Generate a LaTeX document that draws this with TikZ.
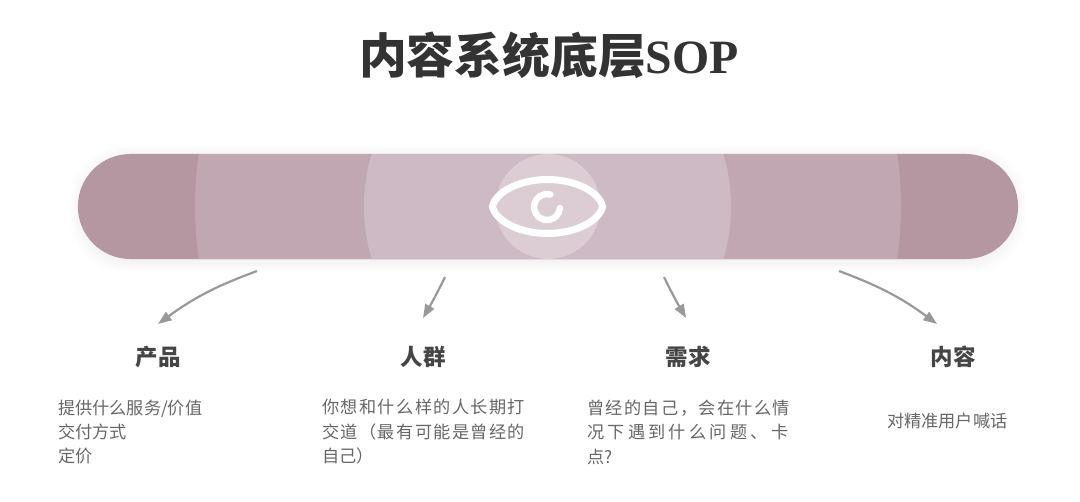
\documentclass[tikz,border=0pt]{standalone}
\usepackage{fontspec}
\usepackage{xcolor}
\usetikzlibrary{arrows.meta,positioning,calc}
\setmainfont{Noto Sans CJK SC}
\newfontfamily\cjkbody{Noto Sans CJK SC}
\newfontfamily\cjktrack[LetterSpace=8.2]{Noto Sans CJK SC}
\newfontfamily\cjkspread[LetterSpace=19]{Noto Sans CJK SC}
\newfontfamily\latintitle{Liberation Serif}
\definecolor{barouter}{HTML}{B597A2}
\definecolor{barmid}{HTML}{C0A7B2}
\definecolor{barinner}{HTML}{CDBAC4}
\definecolor{barcore}{HTML}{DCCDD5}
\definecolor{ink}{HTML}{333333}
\definecolor{headink}{HTML}{454545}
\definecolor{bodyink}{HTML}{666666}
\definecolor{arrowgray}{HTML}{999999}
\tikzset{
  titletext/.style={text=ink,inner sep=0pt,font=\fontsize{34pt}{40pt}\selectfont\bfseries},
  headtext/.style={text=headink,inner sep=0pt,font=\fontsize{16pt}{18pt}\selectfont\bfseries},
  bodytext/.style={text=bodyink,inner sep=0pt,align=left,anchor=west,
                   font=\fontsize{12.2pt}{17.4pt}\selectfont},
  softarr/.style={-{Triangle[length=3.4mm,width=2.5mm]},line width=0.55mm,color=arrowgray},
  eyeline/.style={draw=white,line width=1.75mm,line cap=round}
}

\begin{document}
\begin{tikzpicture}[x=0.025cm,y=-0.025cm]
  \useasboundingbox (0,0) rectangle (1080,501);

  % Title
  \node[titletext] (title) at (549,55) {内容系统底层{\latintitle\fontsize{34pt}{40pt}\selectfont SOP}};

  % Soft shadow under the bar
  \foreach \s in {2,4,...,14}{
    \fill[black,opacity=0.006,rounded corners=1.35cm]
      (84-\s,160-\s) rectangle (1012+\s,258+\s);
  }

  % Bar with its rings
  \node[fill=barouter,rounded corners=1.3125cm,minimum width=23.5cm,minimum height=2.625cm,
        inner sep=0pt] (bar) at (548,206.5) {};
  \begin{scope}
    \clip[rounded corners=1.3125cm] (78,154) rectangle (1018,259);
    \fill[barmid] (548,206.5) circle[radius=353];
    \fill[barinner] (547.5,206.5) circle[radius=183.5];
    \fill[barcore] (548,206.5) circle[radius=52.5];
  \end{scope}

  % Eye
  \draw[eyeline] (492.5,206.5) .. controls (495,193) and (518,179.5) .. (547.5,179.5)
    .. controls (577,179.5) and (600,193) .. (602.5,206.5)
    .. controls (600,220) and (577,233.5) .. (547.5,233.5)
    .. controls (518,233.5) and (495,220) .. cycle;
  \draw[eyeline,line width=1.6mm] ($(547,207)+(-75:13)$) arc[start angle=-75,end angle=-355,radius=13];

  % Arrow ends
  \coordinate (p1a) at (257,271);
  \coordinate (p1b) at (158,324);
  \coordinate (p2a) at (445,277);
  \coordinate (p2b) at (423,318);
  \coordinate (p3a) at (664,277);
  \coordinate (p3b) at (686,318);
  \coordinate (p4a) at (839,271);
  \coordinate (p4b) at (937,324);

  \draw[softarr] (p1a) to[bend right=8] (p1b);
  \draw[softarr] (p2a) to[bend left=2] (p2b);
  \draw[softarr] (p3a) to[bend right=2] (p3b);
  \draw[softarr] (p4a) to[bend left=8] (p4b);

  % Headings
  \node[headtext] (product) at (158,357) {产品};
  \node[headtext] (people) at (423,357) {人群};
  \node[headtext] (needs) at (688,357) {需求};
  \node[headtext] (content) at (953,357) {内容};

  % Body texts
  \node[bodytext] (productnote) at (58,432) {提供什么服务/价值\\交付方式\\定价};
  \node[bodytext] (peoplenote) at (322,432) {{\cjktrack 你想和什么样的人长期打}\\{\cjktrack 交道（最有可能是曾经的}\\自己）};
  \node[bodytext] (needsnote) at (587,432) {{\cjktrack 曾经的自己，会在什么情}\\{\cjkspread 况下遇到什么问题、卡}\\点?};
  \node[bodytext] (contentnote) at (887,421) {对精准用户喊话};
\end{tikzpicture}
\end{document}
